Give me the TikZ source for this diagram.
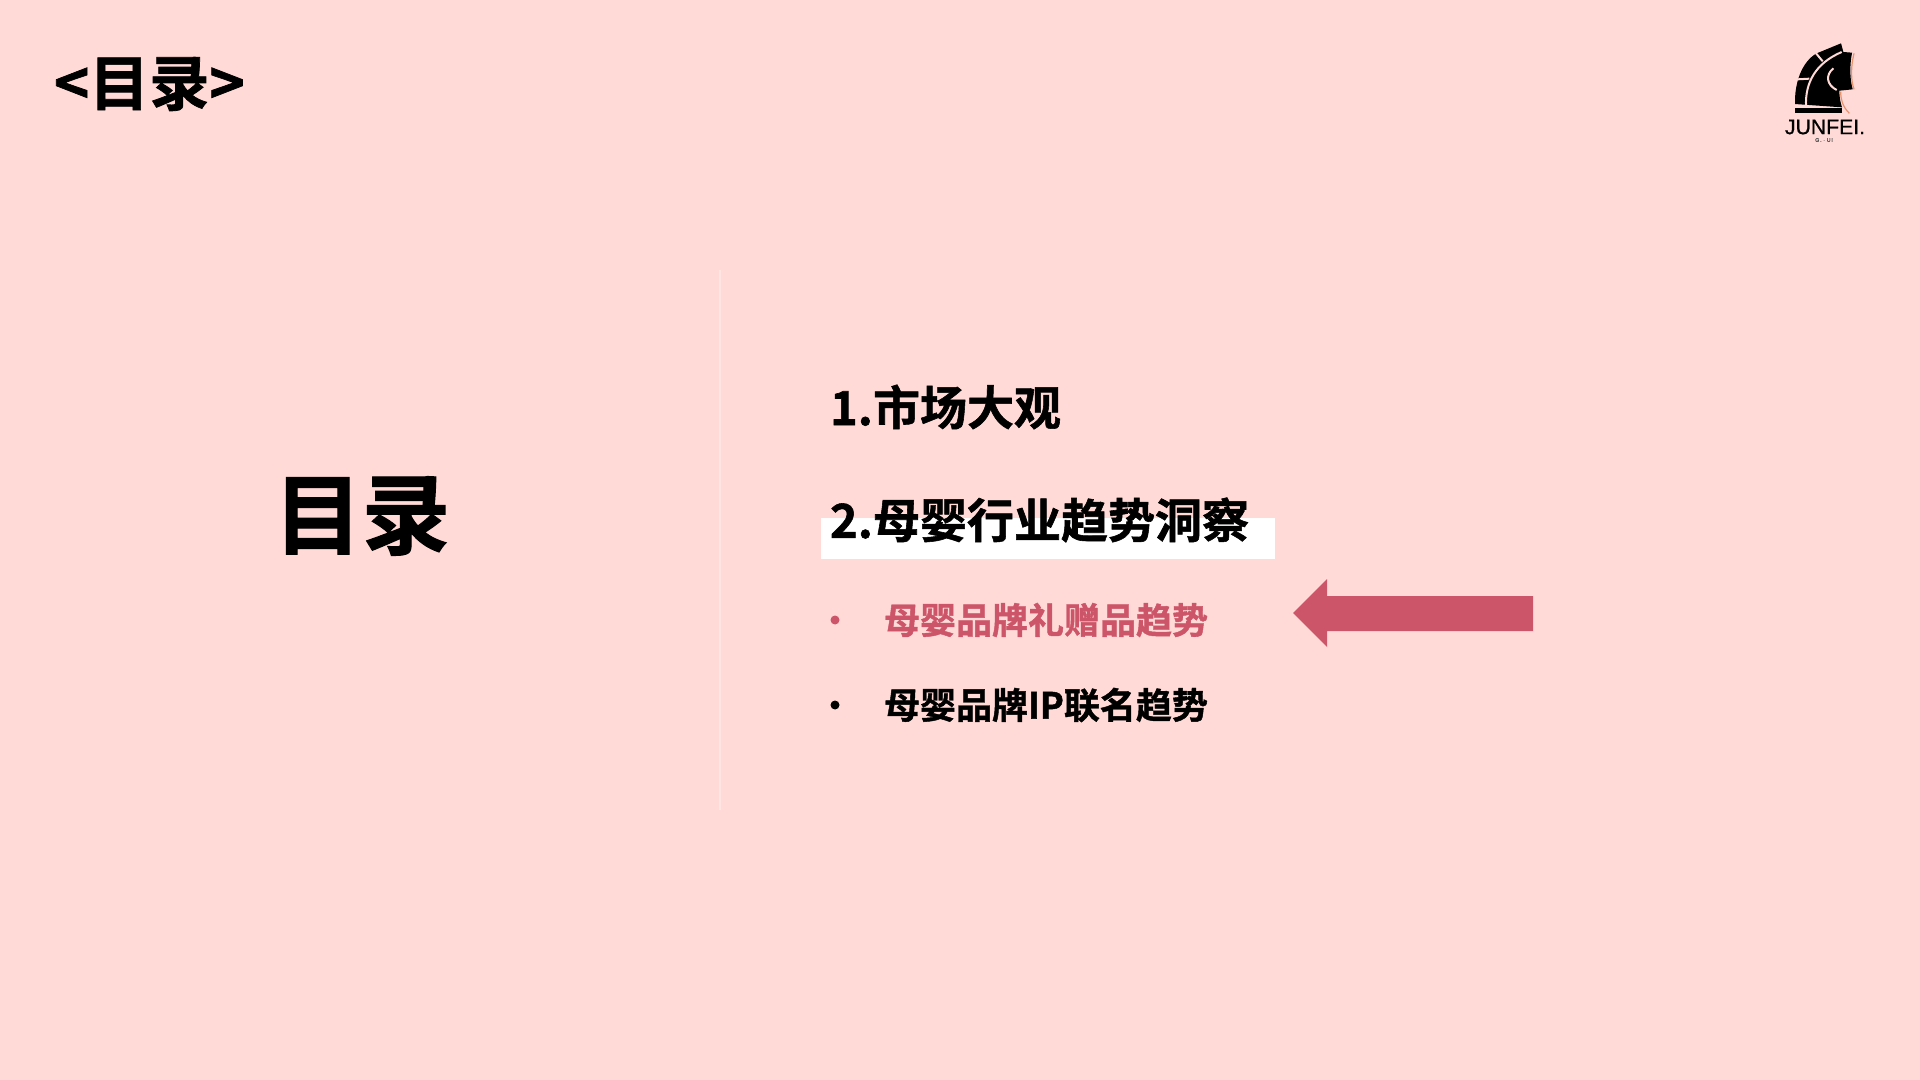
\documentclass[tikz,border=0pt]{standalone}
\usepackage{fontspec}
\newfontfamily\cjk[FakeBold=1.2]{Noto Sans CJK SC Bold}
\newfontfamily\logofont[FakeBold=0.6]{Liberation Sans}
\definecolor{bgpink}{HTML}{FFDAD7}
\definecolor{rose}{HTML}{CD5569}
\definecolor{faint}{HTML}{FFE6E3}
\definecolor{logoedge}{HTML}{E8926E}
\tikzset{
  txt/.style={inner sep=0pt,outer sep=0pt,anchor=west,text=black,font=\cjk},
  head/.style={txt,font=\cjk\fontsize{23.5}{28}\selectfont},
  sub/.style={txt,font=\cjk\fontsize{18}{22}\selectfont},
  dot/.style={circle,fill=#1,inner sep=0pt,minimum size=4.5pt}
}
\begin{document}
\begin{tikzpicture}[x=0.5pt,y=-0.5pt]
\useasboundingbox (0,0) rectangle (1920,1080);
\fill[bgpink] (0,0) rectangle (1920,1080);
% divider
\coordinate (ltop) at (720,270);
\coordinate (lbot) at (720,810);
\draw[faint,line width=1pt] (ltop) -- (lbot);
% white highlight
\fill[white] (821,518) rectangle (1275,559);
% titles
\node[txt,font=\cjk\fontsize{30}{34}\selectfont] (corner) at (54,84) {<目录>};
\node[txt,font=\cjk\fontsize{44}{50}\selectfont] (big) at (274,516) {目录};
\node[head] (a1) at (830,407) {1.市场大观};
\node[head] (a2) at (830,520) {2.母婴行业趋势洞察};
\node[dot=rose] (b1) at (835,620) {};
\node[sub,text=rose] (t1) at (884,620) {母婴品牌礼赠品趋势};
\node[dot=black] (b2) at (835,705) {};
\node[sub] (t2) at (884,705) {母婴品牌IP联名趋势};
% arrow
\fill[rose] (1293,613) -- (1327,579) -- (1327,596) -- (1533,596) -- (1533,631) -- (1327,631) -- (1327,647) -- cycle;
% logo
\begin{scope}[shift={(1740,20)},x=0.1667pt,y=-0.1667pt]
\fill[black] (165,252) .. controls (163,190) and (185,125) .. (230,100) -- (303,70) -- (310,96) -- (336,98)
  .. controls (328,140) and (330,180) .. (338,208) -- (298,212) .. controls (298,235) and (302,250) .. (306,262) -- cycle;
\fill[black] (165,264) rectangle (306,280);
\draw[bgpink,line width=1pt] (172,178) -- (208,176);
\draw[bgpink,line width=1pt] (228,100) -- (248,124);
\draw[bgpink,line width=1pt] (198,258) .. controls (195,190) and (225,130) .. (305,96);
\draw[bgpink,line width=1pt] (280,145) .. controls (255,165) and (260,195) .. (290,210);
\draw[logoedge,line width=0.6pt] (342,100) .. controls (332,140) and (332,180) .. (342,208);
\draw[logoedge,line width=0.6pt] (302,215) .. controls (302,240) and (308,260) .. (328,280);
\end{scope}
\node[inner sep=0pt,font=\logofont\fontsize{10.6}{12}\selectfont,text=black] (logo) at (1825,127) {JUNFEI.};
\node[inner sep=0pt,font=\logofont\fontsize{2.6}{3}\selectfont,text=black!70] (logosub) at (1824,140) {G\,.\,\,·\,\,U\,I};
\end{tikzpicture}
\end{document}
